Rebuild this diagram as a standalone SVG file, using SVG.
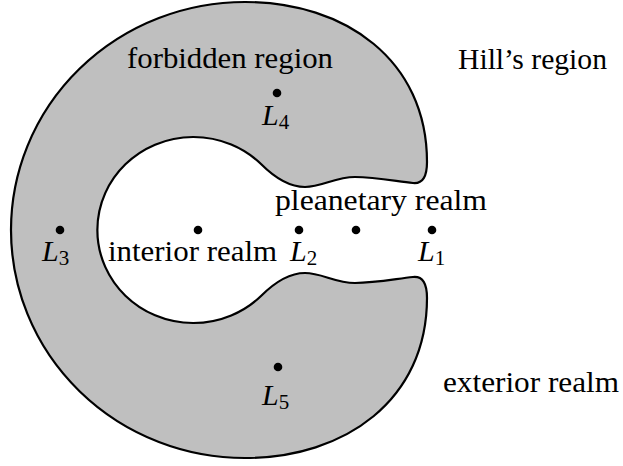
<svg xmlns="http://www.w3.org/2000/svg" width="623" height="466" viewBox="0 0 623 466">
<style>
.region{fill:#bfbfbf;stroke:#000;stroke-width:2.2;stroke-linejoin:round}
.dot{fill:#000}
.t{font-family:"Liberation Serif","Times New Roman",serif;font-size:30px;fill:#000}
.L{font-family:"Liberation Serif","Times New Roman",serif;font-size:30px;font-style:italic;fill:#000}
.sub{font-size:21px;font-style:normal}
</style>
<rect width="623" height="466" fill="#fff"/>
<g id="forbidden-region">
<path class="region" d="M 261,164 C 275,178 290,187 305,187 C 322,187 335,177 355,177 C 375,177 395,181 413,183 C 423,184 427,176 427,162 C 427,60 345,2 245,2 A 234 228 0 0 0 11,230 A 234 228 0 0 0 245,458 C 345,458 427,400 427,298 C 427,284 423,276 413,277 C 395,279 375,283 355,283 C 335,283 322,273 305,273 C 290,273 275,282 261,296 A 96 93 0 1 1 261,164 Z"/>
<text class="t" x="127" y="68" textLength="206" lengthAdjust="spacingAndGlyphs">forbidden region</text>
</g>
<g id="hills-region"><text class="t" x="458" y="69" textLength="149" lengthAdjust="spacingAndGlyphs">Hill’s region</text></g>
<g id="exterior-realm"><text class="t" x="443" y="392" textLength="176" lengthAdjust="spacingAndGlyphs">exterior realm</text></g>
<g id="interior-realm">
<circle class="dot" cx="198" cy="230" r="4.3"/>
<text class="t" x="108" y="261" textLength="169" lengthAdjust="spacingAndGlyphs">interior realm</text>
</g>
<g id="pleanetary-realm">
<circle class="dot" cx="356" cy="230" r="4.3"/>
<text class="t" x="275" y="210" textLength="212" lengthAdjust="spacingAndGlyphs">pleanetary realm</text>
</g>
<g id="L1"><circle class="dot" cx="432" cy="230" r="4.3"/><text class="L" x="418" y="261">L<tspan class="sub" dy="4">1</tspan></text></g>
<g id="L2"><circle class="dot" cx="299" cy="230" r="4.3"/><text class="L" x="290" y="261">L<tspan class="sub" dy="4">2</tspan></text></g>
<g id="L3"><circle class="dot" cx="60" cy="230" r="4.3"/><text class="L" x="42" y="261">L<tspan class="sub" dy="4">3</tspan></text></g>
<g id="L4"><circle class="dot" cx="277" cy="93" r="4.3"/><text class="L" x="262" y="125">L<tspan class="sub" dy="4">4</tspan></text></g>
<g id="L5"><circle class="dot" cx="278" cy="367" r="4.3"/><text class="L" x="262" y="405">L<tspan class="sub" dy="4">5</tspan></text></g>
</svg>
